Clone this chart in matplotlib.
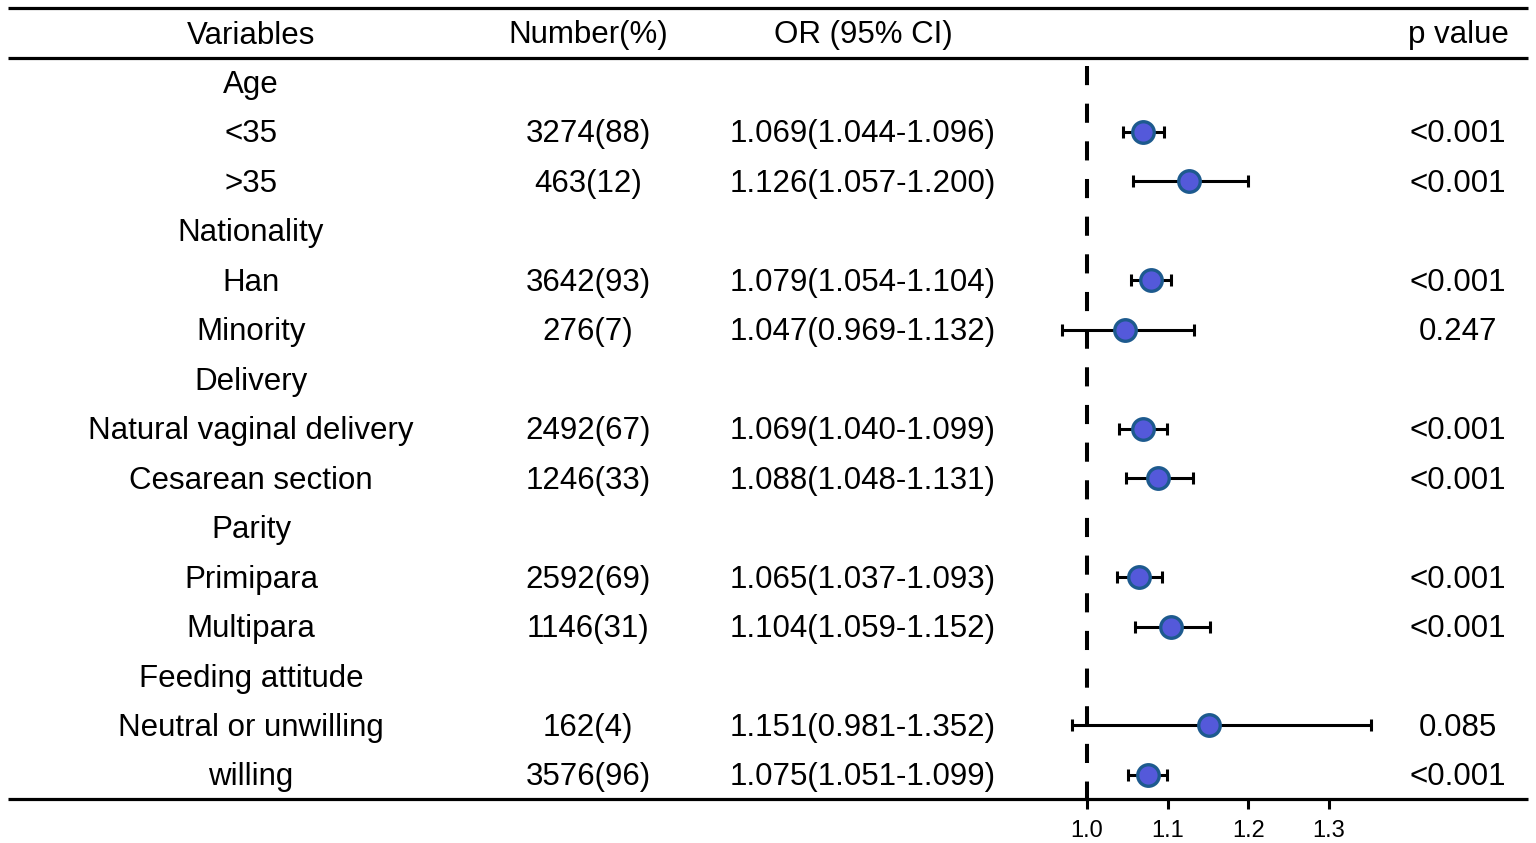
import matplotlib
matplotlib.use("Agg")
import matplotlib.pyplot as plt

plt.rcParams['font.family'] = ['Liberation Sans', 'DejaVu Sans']

# ---- data ----
headers = ["Variables", "Number(%)", "OR (95% CI)", "p value"]
labels = ["Age", "<35", ">35", "Nationality", "Han", "Minority", "Delivery",
          "Natural vaginal delivery", "Cesarean section", "Parity", "Primipara",
          "Multipara", "Feeding attitude", "Neutral or unwilling", "willing"]
numbers = ["", "3274(88)", "463(12)", "", "3642(93)", "276(7)", "",
           "2492(67)", "1246(33)", "", "2592(69)", "1146(31)", "",
           "162(4)", "3576(96)"]
or_vals = [None, 1.069, 1.126, None, 1.079, 1.047, None, 1.069, 1.088, None,
           1.065, 1.104, None, 1.151, 1.075]
ci_low = [None, 1.044, 1.057, None, 1.054, 0.969, None, 1.040, 1.048, None,
          1.037, 1.059, None, 0.981, 1.051]
ci_high = [None, 1.096, 1.200, None, 1.104, 1.132, None, 1.099, 1.131, None,
           1.093, 1.152, None, 1.352, 1.099]
p_values = ["", "<0.001", "<0.001", "", "<0.001", "0.247", "", "<0.001",
            "<0.001", "", "<0.001", "<0.001", "", "0.085", "<0.001"]
xticks = [1.0, 1.1, 1.2, 1.3]
ref_line = 1.0

W, H = 1536, 843
fig = plt.figure(figsize=(W / 100, H / 100), dpi=100)

# background table axes in pixel coordinates
bg = fig.add_axes([0, 0, 1, 1])
bg.set_xlim(0, W)
bg.set_ylim(H, 0)
bg.axis('off')

fs = 22.5
row0, dy = 82.5, 49.46
col_x = [251, 588, 863, 1458]
header_y = 35.5
txt_shift = 2.5

for x, h in zip(col_x, headers):
    bg.text(x, header_y, h, ha='center', va='center', fontsize=fs, color='black')

for line_y in (8, 57.5, 799):
    bg.plot([8, 1528], [line_y, line_y], color='black', lw=2.3, solid_capstyle='butt')

for i, lab in enumerate(labels):
    y = row0 + i * dy + txt_shift
    bg.text(col_x[0], y, lab, ha='center', va='center', fontsize=fs)
    if numbers[i]:
        bg.text(col_x[1], y, numbers[i], ha='center', va='center', fontsize=fs)
    if or_vals[i] is not None:
        s = f"{or_vals[i]:.3f}({ci_low[i]:.3f}-{ci_high[i]:.3f})"
        bg.text(col_x[2], y, s, ha='center', va='center', fontsize=fs)
    if p_values[i]:
        bg.text(col_x[3], y, p_values[i], ha='center', va='center', fontsize=fs)

# forest axes
left_px, right_px, top_px, bot_px = 1000, 1400, 66, 799
px_per_unit = 807.0
x0_px = 1087
ax = fig.add_axes([left_px / W, 1 - bot_px / H, (right_px - left_px) / W,
                   (bot_px - top_px) / H])
ax.patch.set_alpha(0)
ax.set_xlim(1 + (left_px - x0_px) / px_per_unit, 1 + (right_px - x0_px) / px_per_unit)
ax.set_ylim((bot_px - row0) / dy, (top_px - row0) / dy)
for sp in ax.spines.values():
    sp.set_visible(False)

idx = [i for i, v in enumerate(or_vals) if v is not None]
xs = [or_vals[i] for i in idx]
xerr = [[or_vals[i] - ci_low[i] for i in idx], [ci_high[i] - or_vals[i] for i in idx]]
ax.errorbar(xs, idx, xerr=xerr, fmt='none', ecolor='black', elinewidth=2.2,
            capsize=4.5, capthick=2.2, zorder=2)
ax.plot(xs, idx, 'o', ms=15.5, mfc='#5459da', mec='#1d5a8e', mew=2.4, zorder=3,
        ls='none')

ylo, yhi = ax.get_ylim()
ax.plot([ref_line, ref_line], [yhi, ylo], color='black', lw=2.9,
        linestyle=(0, (4.75, 4.6)), zorder=1)

ax.set_xticks(xticks)
ax.set_xticklabels([f"{t:.1f}" for t in xticks], fontsize=17)
ax.tick_params(axis='x', direction='out', length=7.5, width=2.2, pad=7.5, colors='black')
ax.set_yticks([])

fig.savefig("out.png", dpi=100, facecolor='white')
